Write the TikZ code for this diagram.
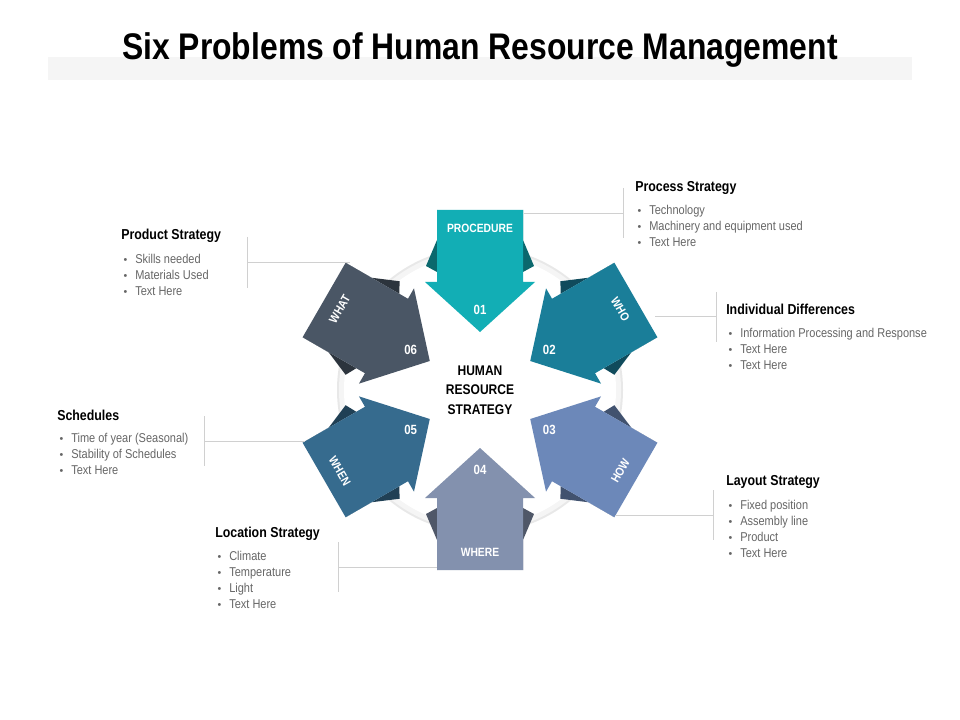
\documentclass[tikz,border=0pt]{standalone}
\usepackage{fontspec}
\setmainfont{Liberation Sans}
\newfontfamily\narrow[FakeStretch=0.86]{Liberation Sans}
\definecolor{cA}{HTML}{12AEB5}
\definecolor{cB}{HTML}{1A7E99}
\definecolor{cC}{HTML}{6C88B9}
\definecolor{cD}{HTML}{8391AE}
\definecolor{cE}{HTML}{366B8E}
\definecolor{cF}{HTML}{4A5665}
\definecolor{txt}{HTML}{666666}
\definecolor{ln}{HTML}{D0D0D0}
\tikzset{
 head/.style={anchor=base west,font=\narrow\bfseries\fontsize{10.8}{12}\selectfont,text=black,inner sep=0},
 item/.style={anchor=base west,font=\narrow\fontsize{9.6}{11}\selectfont,text=txt,inner sep=0},
 dot/.style={anchor=base,font=\fontsize{8}{9}\selectfont,text=txt,inner sep=0},
 conn/.style={draw=ln,line width=0.6pt},
 tl/.style={font=\narrow\bfseries\fontsize{9}{10}\selectfont,text=white,inner sep=0},
 nl/.style={font=\narrow\bfseries\fontsize{10}{11}\selectfont,text=white,inner sep=0},
}
\newcommand{\hrarrow}[5]{% angle, color, number, label, labelrot
 \begin{scope}[rotate=#1]
  \fill[#2!60!black] (180,43) -- (150,43) -- (124,54) -- (118,43) -- cycle;
  \fill[#2!60!black] (180,-43) -- (150,-43) -- (124,-54) -- (118,-43) -- cycle;
  \fill[#2] (180,43) -- (108,43) -- (108,55) -- (58,0) -- (108,-55) -- (108,-43) -- (180,-43) -- cycle;
  \node[nl] at (80,0) {#3};
  \node[tl,rotate=#5] at (162,0) {#4};
 \end{scope}}
\begin{document}
\begin{tikzpicture}[x=0.75pt,y=-0.75pt]
\fill[white] (0,0) rectangle (960,720);
\useasboundingbox (0,0) rectangle (960,720);
\fill[gray!8] (48,57) rectangle (912,80);
\node[font=\narrow\bfseries\fontsize{27.8}{33}\selectfont,inner sep=0] (title) at (480,50) {Six Problems of Human Resource Management};
% ring
\fill[gray!18] (480,390) circle (143);
\fill[gray!8] (480,390) circle (141);
\fill[white] (480,390) circle (136);
\begin{scope}[shift={(480,390)}]
\hrarrow{90}{cA}{01}{PROCEDURE}{0}
\hrarrow{30}{cB}{02}{WHO}{-60}
\hrarrow{-30}{cC}{03}{HOW}{60}
\hrarrow{-90}{cD}{04}{WHERE}{0}
\hrarrow{-150}{cE}{05}{WHEN}{-60}
\hrarrow{150}{cF}{06}{WHAT}{60}
\end{scope}
\node[align=center,font=\narrow\bfseries\fontsize{10.5}{14.5}\selectfont,inner sep=0] (center) at (480,390) {HUMAN\\RESOURCE\\STRATEGY};
% connectors
\draw[conn] (524,213) -- (623,213); \draw[conn] (623,188) -- (623,238);
\draw[conn] (655,316) -- (716,316); \draw[conn] (716,292) -- (716,342);
\draw[conn] (615,515) -- (713,515); \draw[conn] (713,490) -- (713,540);
\draw[conn] (247,262) -- (350,262); \draw[conn] (247,237) -- (247,288);
\draw[conn] (204,441) -- (305,441); \draw[conn] (204,416) -- (204,466);
\draw[conn] (338,567) -- (437,567); \draw[conn] (338,542) -- (338,592);
% texts
\newcommand{\blk}[5]{% x, y heading, heading, bullet y start, list
 \node[head] at (#1,#2+5) {#3};
 \foreach \t [count=\i from 0] in {#5} {
  \node[dot] at (#1+4.5,#4+4.5+16*\i) {•};
  \node[item] at (#1+14,#4+4.5+16*\i) {\t};
 }}
\blk{635}{187}{Process Strategy}{210}{Technology,Machinery and equipment used,Text Here}
\blk{726}{310}{Individual Differences}{333}{Information Processing and Response,Text Here,Text Here}
\blk{726}{480}{Layout Strategy}{505}{Fixed position,Assembly line,Product,Text Here}
\blk{121}{235}{Product Strategy}{259}{Skills needed,Materials Used,Text Here}
\blk{57}{415}{Schedules}{438}{Time of year (Seasonal),Stability of Schedules,Text Here}
\blk{215}{532}{Location Strategy}{556}{Climate,Temperature,Light,Text Here}
\end{tikzpicture}
\end{document}
